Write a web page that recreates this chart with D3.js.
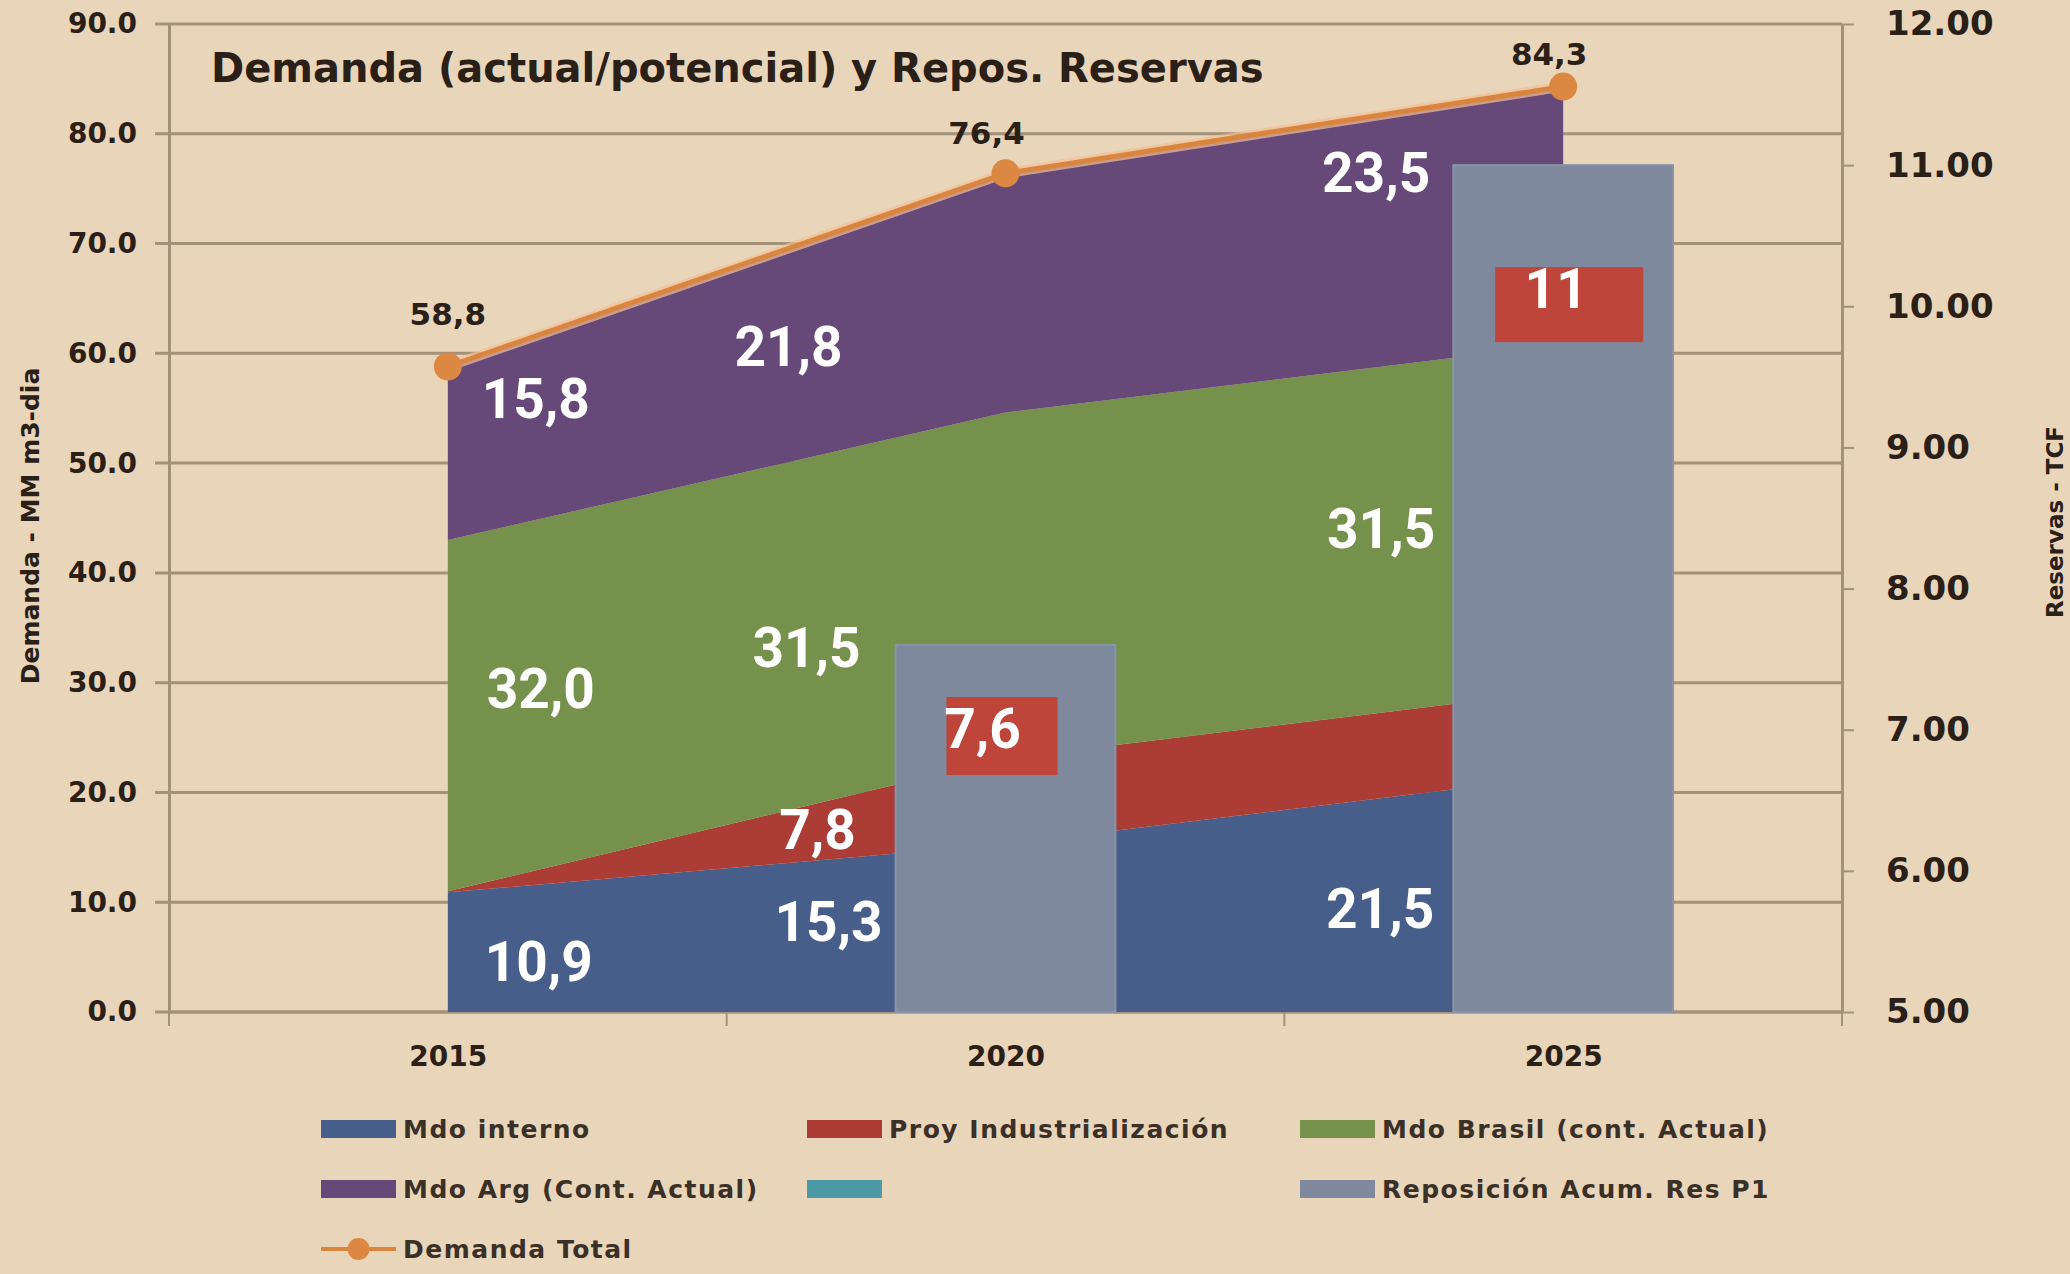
<!DOCTYPE html>
<html>
<head>
<meta charset="utf-8">
<script src="https://cdn.jsdelivr.net/npm/d3@7"></script>
<style>
  html, body { margin: 0; padding: 0; background: #e9d5b9; }
  svg { display: block; }
</style>
</head>
<body>
<svg id="chart" width="2070" height="1274"></svg>
<script>
// ---- data ----
const years = ["2015", "2020", "2025"];
const mdoInterno = [10.9, 15.3, 21.5];
const proyIndustrializacion = [0.1, 7.8, 7.8];
const mdoBrasil = [32.0, 31.5, 31.5];
const mdoArg = [15.8, 21.8, 23.5];
const demandaTotal = [58.8, 76.4, 84.3];
const reposicionAcum = [null, 7.6, 11];          // TCF, right axis
const leftTicks = [0, 10, 20, 30, 40, 50, 60, 70, 80, 90];
const rightTicks = [5, 6, 7, 8, 9, 10, 11, 12];

const seriesNames = ["Mdo interno", "Proy Industrialización", "Mdo Brasil (cont. Actual)", "Mdo Arg (Cont. Actual)"];
const title = "Demanda (actual/potencial) y Repos. Reservas";
const leftAxisTitle = "Demanda - MM m3-dia";
const rightAxisTitle = "Reservas - TCF";

// ---- styling / layout ----
const colors = {
  interno: "#475e8b",
  industrial: "#ab3d36",
  brasil: "#76914b",
  arg: "#664879",
  teal: "#4c9aa5",
  bar: "#7f899e",
  line: "#d9853e",
  grid: "#a3917a",
  text: "#2a2018",
  legendText: "#3a3027",
  labelBox: "#bf4439"
};
const W = 2070, H = 1274;
const plot = { left: 169, right: 1842, top: 24, bottom: 1012 };

// offsets [dx, dy] of each in-area label from its stack segment mid point
const areaLabelNudge = {
  interno:    [[91, 29], [-177, 13], [-183, 34]],
  industrial: [null,     [-188, 48], null],
  brasil:     [[93, -8], [-199, 81], [-182, 31]],
  arg:        [[88, -35], [-217, 73], [-187, -24]]
};
const totalLabelNudge = [[0, -42], [-19, -29], [-14, -22]];
// reserve bar label boxes: box left/top relative to bar centre/top, size, text anchor
const barLabelLayout = [
  null,
  { bx: -59, by: 52, w: 111, h: 78, tx: -23, ty: 103 },
  { bx: -68, by: 102, w: 148, h: 75, tx: -7, ty: 143 }
];

const svg = d3.select("#chart");
svg.append("rect").attr("width", W).attr("height", H).attr("fill", "#e9d5b9");

// ---- scales ----
const xBand = d3.scaleBand().domain(years).range([plot.left, plot.right])
  .paddingInner(0.606).paddingOuter(0.303);
const xc = d => xBand(d) + xBand.bandwidth() / 2;
const y = d3.scaleLinear().domain([0, 90]).range([plot.bottom, plot.top]);
const yR = d3.scaleLinear().domain([5, 12]).range([plot.bottom, plot.top]);

// ---- gridlines ----
svg.append("g").selectAll("line").data(leftTicks).join("line")
  .attr("x1", plot.left - 14).attr("x2", plot.right)
  .attr("y1", d => y(d)).attr("y2", d => y(d))
  .attr("stroke", colors.grid).attr("stroke-width", 3);

// ---- left axis ----
const gL = svg.append("g").attr("transform", `translate(${plot.left},0)`)
  .call(d3.axisLeft(y).tickValues(leftTicks).tickFormat(d3.format(".1f"))
    .tickSize(0).tickSizeOuter(0).tickPadding(32));
gL.select(".domain").attr("stroke", colors.grid).attr("stroke-width", 3);
gL.selectAll("text").attr("font-family", "DejaVu Sans").attr("font-weight", "bold")
  .attr("font-size", 28).attr("fill", colors.text);

// ---- right axis ----
const gR = svg.append("g").attr("transform", `translate(${plot.right},0)`)
  .call(d3.axisRight(yR).tickValues(rightTicks).tickFormat(d3.format(".2f"))
    .tickSize(12).tickSizeOuter(0).tickPadding(32));
gR.select(".domain").attr("stroke", colors.grid).attr("stroke-width", 3);
gR.selectAll(".tick line").attr("stroke", colors.grid).attr("stroke-width", 2);
gR.selectAll("text").attr("font-family", "DejaVu Sans").attr("font-weight", "bold")
  .attr("font-size", 34).attr("fill", colors.text);

// ---- bottom axis ----
const gB = svg.append("g").attr("transform", `translate(0,${plot.bottom})`)
  .call(d3.axisBottom(d3.scalePoint().domain(years).range([xc(years[0]), xc(years[years.length - 1])]))
    .tickSize(0).tickPadding(0));
gB.select(".domain").remove();
gB.selectAll("text").attr("dy", null).attr("y", 54)
  .attr("font-family", "DejaVu Sans").attr("font-weight", "bold")
  .attr("font-size", 28).attr("fill", colors.text);
svg.append("line").attr("x1", plot.left).attr("x2", plot.right)
  .attr("y1", plot.bottom).attr("y2", plot.bottom)
  .attr("stroke", colors.grid).attr("stroke-width", 3);
svg.append("g").selectAll("line").data(d3.range(years.length + 1)).join("line")
  .attr("x1", i => plot.left + i * xBand.step()).attr("x2", i => plot.left + i * xBand.step())
  .attr("y1", plot.bottom).attr("y2", plot.bottom + 14)
  .attr("stroke", colors.grid).attr("stroke-width", 2);

// ---- stacked areas ----
const keys = ["interno", "industrial", "brasil", "arg"];
const rows = years.map((yr, i) => ({
  year: yr,
  interno: mdoInterno[i],
  industrial: proyIndustrializacion[i],
  brasil: mdoBrasil[i],
  arg: mdoArg[i]
}));
const stacked = d3.stack().keys(keys)(rows);
const area = d3.area()
  .x(d => xc(d.data.year))
  .y0(d => y(d[0]))
  .y1(d => y(d[1]));
svg.append("g").selectAll("path").data(stacked).join("path")
  .attr("d", area)
  .attr("fill", s => colors[s.key]);

// ---- reserve bars (right axis) ----
const barData = years.map((yr, i) => ({ year: yr, v: reposicionAcum[i], i }))
  .filter(d => d.v != null);
svg.append("g").selectAll("rect").data(barData).join("rect")
  .attr("x", d => xBand(d.year))
  .attr("width", xBand.bandwidth())
  .attr("y", d => yR(d.v))
  .attr("height", d => yR(5) - yR(d.v))
  .attr("fill", colors.bar)
  .attr("stroke", "#8994aa").attr("stroke-width", 2);

// ---- total demand line ----
const line = d3.line().x((d, i) => xc(years[i])).y(d => y(d));
svg.append("path").datum(demandaTotal).attr("d", line)
  .attr("fill", "none").attr("stroke", "#f2c197").attr("stroke-width", 10)
  .attr("stroke-opacity", 0.7).attr("stroke-linejoin", "round");
svg.append("path").datum(demandaTotal).attr("d", line)
  .attr("fill", "none").attr("stroke", colors.line).attr("stroke-width", 5)
  .attr("stroke-linejoin", "round");
svg.append("g").selectAll("circle").data(demandaTotal).join("circle")
  .attr("cx", (d, i) => xc(years[i])).attr("cy", d => y(d)).attr("r", 14)
  .attr("fill", "#dc8843");

// ---- labels ----
const fmt1 = v => v.toFixed(1).replace(".", ",");
const fmtBar = v => Number.isInteger(v) ? String(v) : v.toFixed(1).replace(".", ",");

const areaLabels = [];
stacked.forEach(s => {
  s.forEach((d, i) => {
    const nudge = areaLabelNudge[s.key][i];
    if (!nudge) return;
    const v = d[1] - d[0];
    areaLabels.push({
      x: xc(years[i]) + nudge[0],
      y: y((d[0] + d[1]) / 2) + nudge[1],
      text: fmt1(v)
    });
  });
});
svg.append("g").selectAll("text").data(areaLabels).join("text")
  .attr("x", d => d.x).attr("y", d => d.y)
  .attr("text-anchor", "middle")
  .attr("font-family", "Roboto").attr("font-weight", "bold").attr("font-size", 55)
  .attr("fill", "#ffffff")
  .text(d => d.text);

svg.append("g").selectAll("text").data(demandaTotal).join("text")
  .attr("x", (d, i) => xc(years[i]) + totalLabelNudge[i][0])
  .attr("y", (d, i) => y(d) + totalLabelNudge[i][1])
  .attr("text-anchor", "middle")
  .attr("font-family", "DejaVu Sans").attr("font-weight", "bold").attr("font-size", 31)
  .attr("fill", colors.text)
  .text(d => fmt1(d));

const barLabels = svg.append("g").selectAll("g").data(barData).join("g");
barLabels.append("rect")
  .attr("x", d => xc(d.year) + barLabelLayout[d.i].bx)
  .attr("y", d => yR(d.v) + barLabelLayout[d.i].by)
  .attr("width", d => barLabelLayout[d.i].w)
  .attr("height", d => barLabelLayout[d.i].h)
  .attr("fill", colors.labelBox);
barLabels.append("text")
  .attr("x", d => xc(d.year) + barLabelLayout[d.i].tx)
  .attr("y", d => yR(d.v) + barLabelLayout[d.i].ty)
  .attr("text-anchor", "middle")
  .attr("font-family", "Roboto").attr("font-weight", "bold").attr("font-size", 55)
  .attr("fill", "#ffffff")
  .text(d => fmtBar(d.v));

// ---- titles ----
svg.append("text").attr("x", 211).attr("y", 82)
  .attr("font-family", "DejaVu Sans").attr("font-weight", "bold").attr("font-size", 40)
  .attr("fill", colors.text).text(title);

svg.append("text")
  .attr("transform", `translate(39,${(plot.top + plot.bottom) / 2 + 8}) rotate(-90)`)
  .attr("text-anchor", "middle")
  .attr("font-family", "DejaVu Sans").attr("font-weight", "bold").attr("font-size", 25)
  .attr("fill", colors.text).text(leftAxisTitle);

svg.append("text")
  .attr("transform", `translate(2063,${(plot.top + plot.bottom) / 2 + 4}) rotate(-90)`)
  .attr("text-anchor", "middle")
  .attr("font-family", "DejaVu Sans").attr("font-weight", "bold").attr("font-size", 23)
  .attr("fill", colors.text).text(rightAxisTitle);

// ---- legend ----
const legendItems = [
  { name: seriesNames[0], color: colors.interno, type: "box", col: 0, row: 0 },
  { name: seriesNames[1], color: colors.industrial, type: "box", col: 1, row: 0 },
  { name: seriesNames[2], color: colors.brasil, type: "box", col: 2, row: 0 },
  { name: seriesNames[3], color: colors.arg, type: "box", col: 0, row: 1 },
  { name: "", color: colors.teal, type: "box", col: 1, row: 1 },
  { name: "Reposición Acum. Res P1", color: colors.bar, type: "box", col: 2, row: 1 },
  { name: "Demanda Total", color: colors.line, type: "line", col: 0, row: 2 }
];
const legendCols = [321, 807, 1300];
const legendRow0 = 1129, legendRowStep = 60, swatchW = 75, swatchH = 18;
const lg = svg.append("g").selectAll("g").data(legendItems).join("g")
  .attr("transform", d => `translate(${legendCols[d.col]},${legendRow0 + d.row * legendRowStep})`);
lg.filter(d => d.type === "box").append("rect")
  .attr("x", 0).attr("y", -swatchH / 2).attr("width", swatchW).attr("height", swatchH)
  .attr("fill", d => d.color);
const ll = lg.filter(d => d.type === "line");
ll.append("line").attr("x1", 0).attr("x2", swatchW).attr("y1", 0).attr("y2", 0)
  .attr("stroke", d => d.color).attr("stroke-width", 4);
ll.append("circle").attr("cx", swatchW / 2).attr("cy", 0).attr("r", 11).attr("fill", "#dc8843");
lg.append("text")
  .attr("x", swatchW + 7).attr("y", 9)
  .attr("font-family", "DejaVu Sans").attr("font-weight", "bold").attr("font-size", 25)
  .attr("letter-spacing", 1.5)
  .attr("fill", colors.legendText)
  .text(d => d.name);
</script>
</body>
</html>
